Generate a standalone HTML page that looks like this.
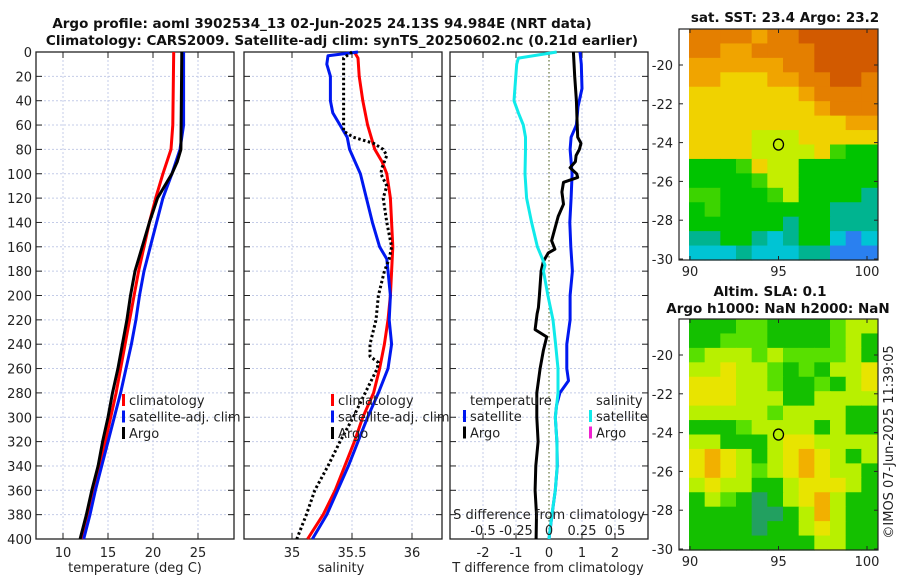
<!DOCTYPE html>
<html><head><meta charset="utf-8"><style>
body{margin:0;background:#fff;width:900px;height:580px;overflow:hidden}
svg{display:block;font-family:"DejaVu Sans","Liberation Sans",sans-serif}
.t{font-size:13px;fill:#222}
.b{font-size:13.5px;font-weight:bold;fill:#111}
</style></head><body>
<svg id="fig" width="900" height="580">
<text class="b" x="322" y="28" text-anchor="middle">Argo profile: aoml 3902534_13 02-Jun-2025 24.13S 94.984E (NRT data)</text>
<text class="b" x="342" y="45" text-anchor="middle">Climatology: CARS2009. Satellite-adj clim: synTS_20250602.nc (0.21d earlier)</text>
<g id="p1"></g>
<g id="p2"></g>
<g id="p3"></g>
<g id="m1"></g>
<g id="m2"></g>
<text class="b" x="785" y="22" text-anchor="middle">sat. SST: 23.4 Argo: 23.2</text>
<text class="b" x="770" y="296" text-anchor="middle">Altim. SLA: 0.1</text>
<text class="b" x="778" y="313" text-anchor="middle">Argo h1000: NaN h2000: NaN</text>
<text class="t" transform="translate(893,442) rotate(-90)" text-anchor="middle">©IMOS 07-Jun-2025 11:39:05</text>
</svg>
<script>
// ---- data ----
const depthTicks=[0,20,40,60,80,100,120,140,160,180,200,220,240,260,280,300,320,340,360,380,400];
const tempTickLabels=[10,15,20,25];
const salTickLabels=[35,35.5,36];
const diffTickLabels=[-2,-1,0,1,2];
const sdiffTickLabels=[-0.5,-0.25,0,0.25,0.5];
const tClimD=[0,60,80,100,120,140,160,180,200,220,240,260,280,300,320,340,360,380,400];
const tClimV=[22.3,22.2,22.0,21.1,20.3,19.6,19.0,18.4,17.9,17.4,16.9,16.4,15.9,15.3,14.7,14.1,13.5,12.9,12.2];
const tSatD=[0,60,80,100,120,140,160,180,200,220,240,260,280,300,320,340,360,380,400];
const tSatV=[23.4,23.4,23.0,22.1,21.1,20.4,19.7,19.0,18.5,18.1,17.6,17.0,16.4,15.7,15.0,14.3,13.6,13.0,12.3];
const tArgoD=[0,80,90,100,110,120,140,160,180,200,220,240,260,280,300,320,340,360,380,400];
const tArgoV=[23.2,23.1,22.7,22.1,21.3,20.5,19.6,18.8,18.0,17.5,17.1,16.6,16.1,15.5,15.0,14.4,13.9,13.2,12.6,11.9];
const sClimD=[0,5,20,40,60,80,90,100,120,160,200,220,240,260,280,300,320,340,360,380,400];
const sClimV=[35.52,35.55,35.56,35.59,35.63,35.69,35.75,35.79,35.82,35.84,35.82,35.80,35.77,35.73,35.68,35.59,35.52,35.44,35.36,35.26,35.13];
const sSatD=[0,3,10,20,40,50,60,70,80,100,120,140,160,170,200,220,240,260,280,300,320,340,360,380,400];
const sSatV=[35.55,35.30,35.29,35.32,35.32,35.34,35.40,35.46,35.48,35.57,35.62,35.67,35.73,35.79,35.82,35.81,35.83,35.80,35.72,35.63,35.55,35.47,35.38,35.29,35.17];
const sArgoD=[0,5,65,70,75,80,85,95,100,110,120,140,160,170,180,200,220,240,250,255,260,280,300,320,340,360,380,400];
const sArgoV=[35.50,35.43,35.43,35.51,35.68,35.76,35.79,35.75,35.74,35.79,35.76,35.79,35.83,35.81,35.77,35.72,35.70,35.65,35.65,35.72,35.71,35.61,35.51,35.40,35.30,35.19,35.12,35.04];
const dTSatD=[0,10,30,45,60,70,80,100,120,140,160,180,200,220,240,260,270,280,290,300,320,340,360,380,400];
const dTSatV=[0.94,0.98,1.0,0.88,0.83,0.67,0.64,0.70,0.67,0.63,0.66,0.71,0.64,0.64,0.54,0.54,0.59,0.33,0.23,0.19,0.24,0.25,0.19,0.09,0.0];
const dTArgoD=[0,20,40,55,70,75,80,85,90,95,100,103,107,115,125,135,145,155,162,165,172,180,200,210,215,228,234,245,260,280,300,320,340,360,380,400];
const dTArgoV=[0.74,0.78,0.83,0.85,0.87,0.97,0.92,0.82,0.80,0.64,0.84,0.87,0.44,0.39,0.44,0.28,0.18,0.08,0.18,-0.02,-0.17,-0.24,-0.29,-0.32,-0.36,-0.42,-0.07,-0.17,-0.27,-0.37,-0.37,-0.33,-0.40,-0.42,-0.38,-0.39];
const dSSatD=[0,5,10,30,40,50,60,70,80,100,120,140,160,175,180,200,220,240,260,280,300,320,340,360,380,400];
const dSSatV=[0.058,-0.232,-0.245,-0.258,-0.265,-0.232,-0.195,-0.178,-0.178,-0.182,-0.170,-0.132,-0.088,-0.030,-0.042,-0.008,0.030,0.050,0.068,0.068,0.048,0.060,0.062,0.048,0.022,0.0];
// map cell grids (colour codes), rows north->south
const sstGrid=["OOOOoOODDDDD","OOooOOOODDDD","ooooooOODDDD","ooYYYooOODDO","YYYYYYYoOOOO","YYYYYYYYoOOO","YYYYYYYYYYoo","YYYYyyyYYYYY","YYYYyyyyYgGG","GGGgYyyGGGGG","GGGGgyyGGGGG","ggGGGgyGGGGT","GgGGGGGGGTTT","GGGGGGTGGTTT","TTGGTCTGGCBC","CCCTCCCTTBBB"];
const slaGrid=["GGGggGGGGgyy","GGgggGGGGgyG","gyyygyggggyG","yyYyygGgGyyY","YYYyygGGgGyY","YYYyyyGGyyyy","yyyyygyyyyGG","GGGgyyyyGyGG","yyGGGyYYyyyy","YOYyGyYOYyGy","YOYygyYOYyyG","yYyyGGyYYYyG","GygGtGyYOyGG","GGGGttGyOyGG","GGGGtGGyYyGG","GGGGGGGGyyGG"];
const sstCol={D:"#d25a00",O:"#e47f00",o:"#f0a400",Y:"#f0d200",y:"#c4ee00",g:"#3cd400",G:"#00c400",T:"#00b490",C:"#00c4d4",B:"#2a80f0"};
const slaCol={G:"#14c000",g:"#58e000",y:"#b8f000",Y:"#e8e400",O:"#f2b000",t:"#22a060"};

// ---- drawing ----
const NS="http://www.w3.org/2000/svg";
function mk(parent,tag,attrs){const e=document.createElementNS(NS,tag);for(const k in attrs)e.setAttribute(k,attrs[k]);parent.appendChild(e);return e;}
const Y0=52,Y1=539;
const yD=d=>Y0+(d/400)*(Y1-Y0);
function panel(g,x0,x1,xmin,xmax,gridVals){
  const xs=v=>x0+(v-xmin)/(xmax-xmin)*(x1-x0);
  for(const d of depthTicks){
    const l=mk(g,'line',{x1:x0,x2:x1,y1:yD(d),y2:yD(d),stroke:'#c4cce8','stroke-dasharray':'2,2','stroke-width':1});
    
    
    mk(g,'line',{x1:x0,x2:x0+6,y1:yD(d),y2:yD(d),stroke:'#222'});
    mk(g,'line',{x1:x1-6,x2:x1,y1:yD(d),y2:yD(d),stroke:'#222'});
  }
  for(const v of gridVals){
    const l=mk(g,'line',{x1:xs(v),x2:xs(v),y1:Y0,y2:Y1,stroke:'#c4cce8','stroke-dasharray':'2,2'});
    
    
    mk(g,'line',{x1:xs(v),x2:xs(v),y1:Y0,y2:Y0+6,stroke:'#222'});
    mk(g,'line',{x1:xs(v),x2:xs(v),y1:Y1-6,y2:Y1,stroke:'#222'});
  }
  const r=mk(g,'rect',{x:x0,y:Y0,width:x1-x0,height:Y1-Y0,fill:'none',stroke:'#222','stroke-width':1.3});
  
  
  return xs;
}
function line(g,xs,D,V,color,name,dash,w){
  let p='';D.forEach((d,i)=>{p+=(i?'L':'M')+xs(V[i]).toFixed(1)+','+yD(d).toFixed(1);});
  const e=mk(g,'path',{d:p,fill:'none',stroke:color,'stroke-width':w||3,'stroke-linejoin':'round'});
  if(dash)e.setAttribute('stroke-dasharray',dash);
  
  
}
function txt(g,x,y,s,anchor,name){const e=mk(g,'text',{x:x,y:y,class:'t','text-anchor':anchor||'start'});e.textContent=s;return e;}
function legend(g,x,y,items){
  items.forEach((it,i)=>{
    const yy=y+i*16.5;
    const m=mk(g,'rect',{x:x,y:yy-11,width:3,height:12,fill:it[1]});
    
    
    txt(g,x+7,yy,it[0],'start','legend-entry');
  });
}
// panel 1
const g1=document.getElementById('p1');
const xt=panel(g1,36,234,7,29,tempTickLabels);
line(g1,xt,tClimD,tClimV,'#f00','temp-climatology-line');
line(g1,xt,tSatD,tSatV,'#0018f0','temp-satellite-line');
line(g1,xt,tArgoD,tArgoV,'#000','temp-argo-line');
depthTicks.forEach(d=>txt(g1,32,yD(d)+5,String(d),'end','y-tick-label'));
tempTickLabels.forEach(v=>txt(g1,xt(v),557,String(v),'middle','x-tick-label'));
txt(g1,135,572,'temperature (deg C)','middle','x-axis-title');
legend(g1,122,405,[['climatology','#f00'],['satellite-adj. clim','#0018f0'],['Argo','#000']]);
// panel 2
const g2=document.getElementById('p2');
const xs2=panel(g2,244,442,34.6,36.25,salTickLabels);
line(g2,xs2,sClimD,sClimV,'#f00','sal-climatology-line');
line(g2,xs2,sSatD,sSatV,'#0018f0','sal-satellite-line');
line(g2,xs2,sArgoD,sArgoV,'#000','sal-argo-line','2.5,2.5');
salTickLabels.forEach(v=>txt(g2,xs2(v),557,String(v),'middle','x-tick-label'));
txt(g2,341,572,'salinity','middle','x-axis-title');
legend(g2,331,405,[['climatology','#f00'],['satellite-adj. clim','#0018f0'],['Argo','#000']]);
// panel 3
const g3=document.getElementById('p3');
const xd=panel(g3,450,648,-3,3,diffTickLabels);
const z=mk(g3,'line',{x1:xd(0),x2:xd(0),y1:Y0,y2:Y1,stroke:'#6b7a3a','stroke-dasharray':'1.5,2.5','stroke-width':1.2});


const xsd=v=>xd(v*4);
line(g3,xd,dTSatD,dTSatV,'#0018f0','tdiff-satellite-line');
line(g3,xd,dTArgoD,dTArgoV,'#000','tdiff-argo-line');
line(g3,xsd,dSSatD,dSSatV,'#10eaea','sdiff-satellite-line');
diffTickLabels.forEach(v=>txt(g3,xd(v),557,String(v),'middle','x-tick-label'));
txt(g3,548,572,'T difference from climatology','middle','x-axis-title');
txt(g3,549,519,'S difference from climatology','middle','s-axis-title');
sdiffTickLabels.forEach(v=>txt(g3,xsd(v),535,String(v),'middle','s-tick-label'));
txt(g3,470,405,'temperature','start','legend-title');
txt(g3,596,405,'salinity','start','legend-title');
legend(g3,463,421,[['satellite','#0018f0'],['Argo','#000']]);
legend(g3,589,421,[['satellite','#10eaea'],['Argo','#f020d0']]);
// maps
function map(g,grid,cols,top,bot){
  const fx0=679,fx1=878,ix0=689,ix1=877;
  const lat=v=>top+36+(v+20)/(-10)*(bot-top-37);
  const nr=grid.length,nc=grid[0].length,cw=(ix1-ix0)/nc,ch=(bot-top)/nr;
  grid.forEach((row,r)=>{[...row].forEach((c,k)=>{
    const e=mk(g,'rect',{x:ix0+k*cw,y:top+r*ch,width:cw+0.6,height:ch+0.6,fill:cols[c]});
    
    
  });});
  const f=mk(g,'rect',{x:fx0,y:top,width:fx1-fx0,height:bot-top,fill:'none',stroke:'#222','stroke-width':1.2});
  
  
  [-20,-22,-24,-26,-28,-30].forEach(v=>{
    txt(g,673,lat(v)+5,String(v),'end','lat-tick-label');
    mk(g,'line',{x1:fx0,x2:fx0+4,y1:lat(v),y2:lat(v),stroke:'#222'});
    mk(g,'line',{x1:fx1-4,x2:fx1,y1:lat(v),y2:lat(v),stroke:'#222'});
  });
  const lon=v=>690+(v-90)*17.7;
  [90,95,100].forEach(v=>{
    txt(g,lon(v),bot+16,String(v),'middle','lon-tick-label');
    mk(g,'line',{x1:lon(v),x2:lon(v),y1:bot-4,y2:bot,stroke:'#222'});
    mk(g,'line',{x1:lon(v),x2:lon(v),y1:top,y2:top+4,stroke:'#222'});
  });
  const c=mk(g,'ellipse',{cx:lon(95),cy:lat(-24.1),rx:5,ry:5.5,fill:'none',stroke:'#000','stroke-width':1.3});
  
  
}
map(document.getElementById('m1'),sstGrid,sstCol,29,260);
map(document.getElementById('m2'),slaGrid,slaCol,319,550);
</script>
</body></html>
